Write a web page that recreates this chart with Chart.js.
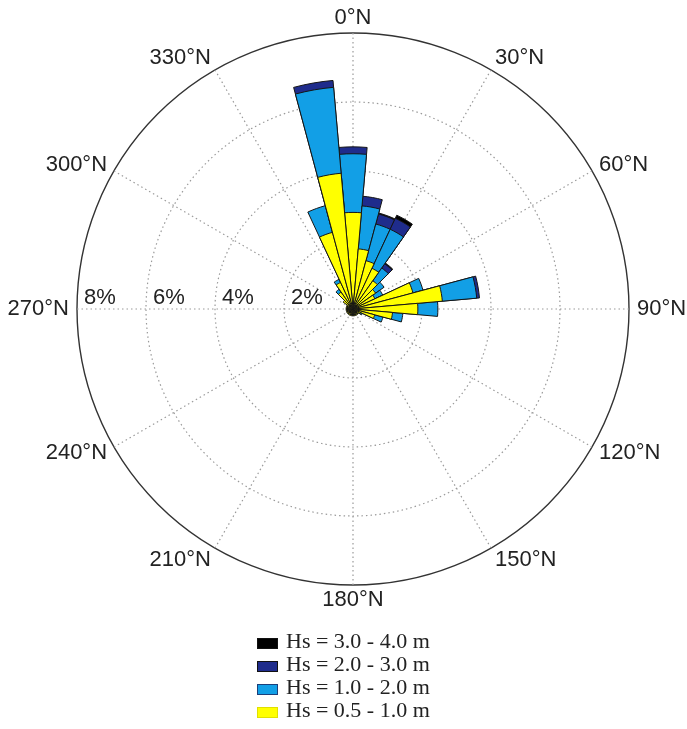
<!DOCTYPE html>
<html>
<head>
<meta charset="utf-8">
<script src="https://cdn.jsdelivr.net/npm/chart.js@4.4.1/dist/chart.umd.min.js"></script>
<style>
    body { margin: 0; background: #fff; }
    #wrap { position: relative; width: 687px; height: 729px; }
    #legend {
        position: absolute; left: 257px; top: 629px;
        font-family: "Liberation Serif", "Times New Roman", serif;
        font-size: 22px; line-height: 23px; color: #222;
    }
    #legend .sw {
        display: inline-block; width: 19px; height: 9px;
        border: 1px solid #111; margin-right: 8px; vertical-align: -1px;
    }
</style>
</head>
<body>
<div id="wrap">
    <canvas id="myChart" width="687" height="729"></canvas>
    <div id="legend"></div>
</div>
<script>
// direcciones (centro de cada sector de 10 grados)
var directions = [];
for (let d = 0; d < 360; d += 10) directions.push(d + "°");

// frecuencia (%) por clase de Hs
var hs05_10 = [2.8, 1.75, 1.45, 1.3, 1.0, 0.8, 0.7, 1.8, 2.6, 1.88, 1.15, 0.65,
               0.25, 0.2, 0.2, 0.2, 0.2, 0.2, 0.2, 0.2, 0.2, 0.2, 0.2, 0.2,
               0.2, 0.2, 0.2, 0.2, 0.2, 0.2, 0.2, 0.35, 0.6, 0.85, 2.3, 3.95];
var hs10_20 = [1.7, 1.25, 1.1, 1.25, 0.45, 0.3, 0.25, 0.3, 1.0, 0.58, 0.3, 0.25,
               0.05, 0, 0, 0, 0, 0, 0, 0, 0, 0, 0, 0,
               0, 0, 0, 0, 0, 0, 0, 0, 0.1, 0.1, 0.8, 2.5];
var hs20_30 = [0.2, 0.28, 0.3, 0.35, 0.15, 0, 0, 0, 0.08, 0, 0, 0,
               0, 0, 0, 0, 0, 0, 0, 0, 0, 0, 0, 0,
               0, 0, 0, 0, 0, 0, 0, 0, 0, 0, 0, 0.2];
var hs30_40 = [0, 0, 0.03, 0.1, 0.03, 0, 0, 0, 0, 0, 0, 0,
               0, 0, 0, 0, 0, 0, 0, 0, 0, 0, 0, 0,
               0, 0, 0, 0, 0, 0, 0, 0, 0, 0, 0, 0];

var classLabels = ["Hs = 0.5 - 1.0 m", "Hs = 1.0 - 2.0 m", "Hs = 2.0 - 3.0 m", "Hs = 3.0 - 4.0 m"];
var classColors = ["#ffff00", "#129fe6", "#1f2c8c", "#000000"];
var rTicks = [2, 4, 6, 8];
var angleTicks = [0, 30, 60, 90, 120, 150, 180, 210, 240, 270, 300, 330];

// acumulados: cada clase se dibuja encima de la siguiente
var classes = [hs05_10, hs10_20, hs20_30, hs30_40];
var cumulative = [];
var running = directions.map(() => 0);
classes.forEach((vals) => {
    running = running.map((v, i) => v + vals[i]);
    cumulative.push(running.slice());
});

var datasets = cumulative.map((vals, k) => ({
    label: classLabels[k],
    data: vals,
    backgroundColor: (c) => classes[k][c.dataIndex] > 0 ? classColors[k] : "rgba(0,0,0,0)",
    borderColor: "#151515",
    borderWidth: (c) => classes[k][c.dataIndex] > 0 ? 1 : 0,
}));

// lineas radiales punteadas y rotulos
var roseDecor = {
    id: "roseDecor",
    beforeDatasetsDraw(chart) {
        const s = chart.scales.r;
        const ctx = chart.ctx;
        ctx.save();
        ctx.strokeStyle = "#9a9a9a";
        ctx.lineWidth = 1.2;
        ctx.setLineDash([1.5, 3]);
        angleTicks.forEach((a) => {
            const t = a * Math.PI / 180;
            ctx.beginPath();
            ctx.moveTo(s.xCenter, s.yCenter);
            ctx.lineTo(s.xCenter + s.drawingArea * Math.sin(t), s.yCenter - s.drawingArea * Math.cos(t));
            ctx.stroke();
        });
        ctx.restore();
    },
    afterDraw(chart) {
        const s = chart.scales.r;
        const ctx = chart.ctx;
        ctx.save();
        ctx.fillStyle = "#222";
        ctx.font = "22px 'Liberation Sans', Arial, sans-serif";
        // porcentajes sobre el eje de 270
        ctx.textAlign = "left";
        ctx.textBaseline = "alphabetic";
        rTicks.forEach((v) => {
            const d = s.getDistanceFromCenterForValue(v);
            ctx.fillText(v + "%", s.xCenter - d + 7, s.yCenter - 5);
        });
        // rumbos
        ctx.textBaseline = "middle";
        angleTicks.forEach((a) => {
            const t = a * Math.PI / 180;
            const c = Math.cos(t);
            const x = s.xCenter + (s.drawingArea + 8) * Math.sin(t);
            const y = s.yCenter - (s.drawingArea + 10 + 5 * c * c) * c;
            ctx.textAlign = (a === 0 || a === 180) ? "center" : (a < 180 ? "left" : "right");
            ctx.fillText(a + "°N", x, y);
        });
        ctx.restore();
    },
};

var ctx = document.getElementById("myChart").getContext("2d");
var chart = new Chart(ctx, {
    type: "polarArea",
    data: {
        labels: directions,
        datasets: datasets,
    },
    options: {
        responsive: false,
        animation: false,
        layout: {
            padding: { left: 77, top: 33, right: 58, bottom: 144 },
        },
        plugins: {
            legend: { display: false },
            tooltip: { enabled: false },
        },
        scales: {
            r: {
                min: 0,
                max: 8,
                startAngle: -5,
                ticks: { stepSize: 2, display: false },
                pointLabels: { display: false },
                angleLines: { display: false },
                grid: {
                    circular: true,
                    color: (c) => c.tick && c.tick.value === 8 ? "#333" : "#9a9a9a",
                    lineWidth: (c) => c.tick && c.tick.value === 8 ? 1.4 : 1.2,
                },
                border: {
                    dash: (c) => c.tick && c.tick.value === 8 ? [] : [1.5, 3],
                },
            },
        },
    },
    plugins: [roseDecor],
});

// leyenda (de mayor a menor Hs)
var legendHolder = document.getElementById("legend");
var rows = [];
for (let k = classLabels.length - 1; k >= 0; k--) {
    const edge = k === 0 ? "#e0e000" : (k === 1 ? "#1c3f7a" : "#111");
    rows.push("<div><span class='sw' style='background:" + classColors[k] +
        ";border-color:" + edge + "'></span>" + classLabels[k] + "</div>");
}
legendHolder.innerHTML = rows.join("");
</script>
</body>
</html>
